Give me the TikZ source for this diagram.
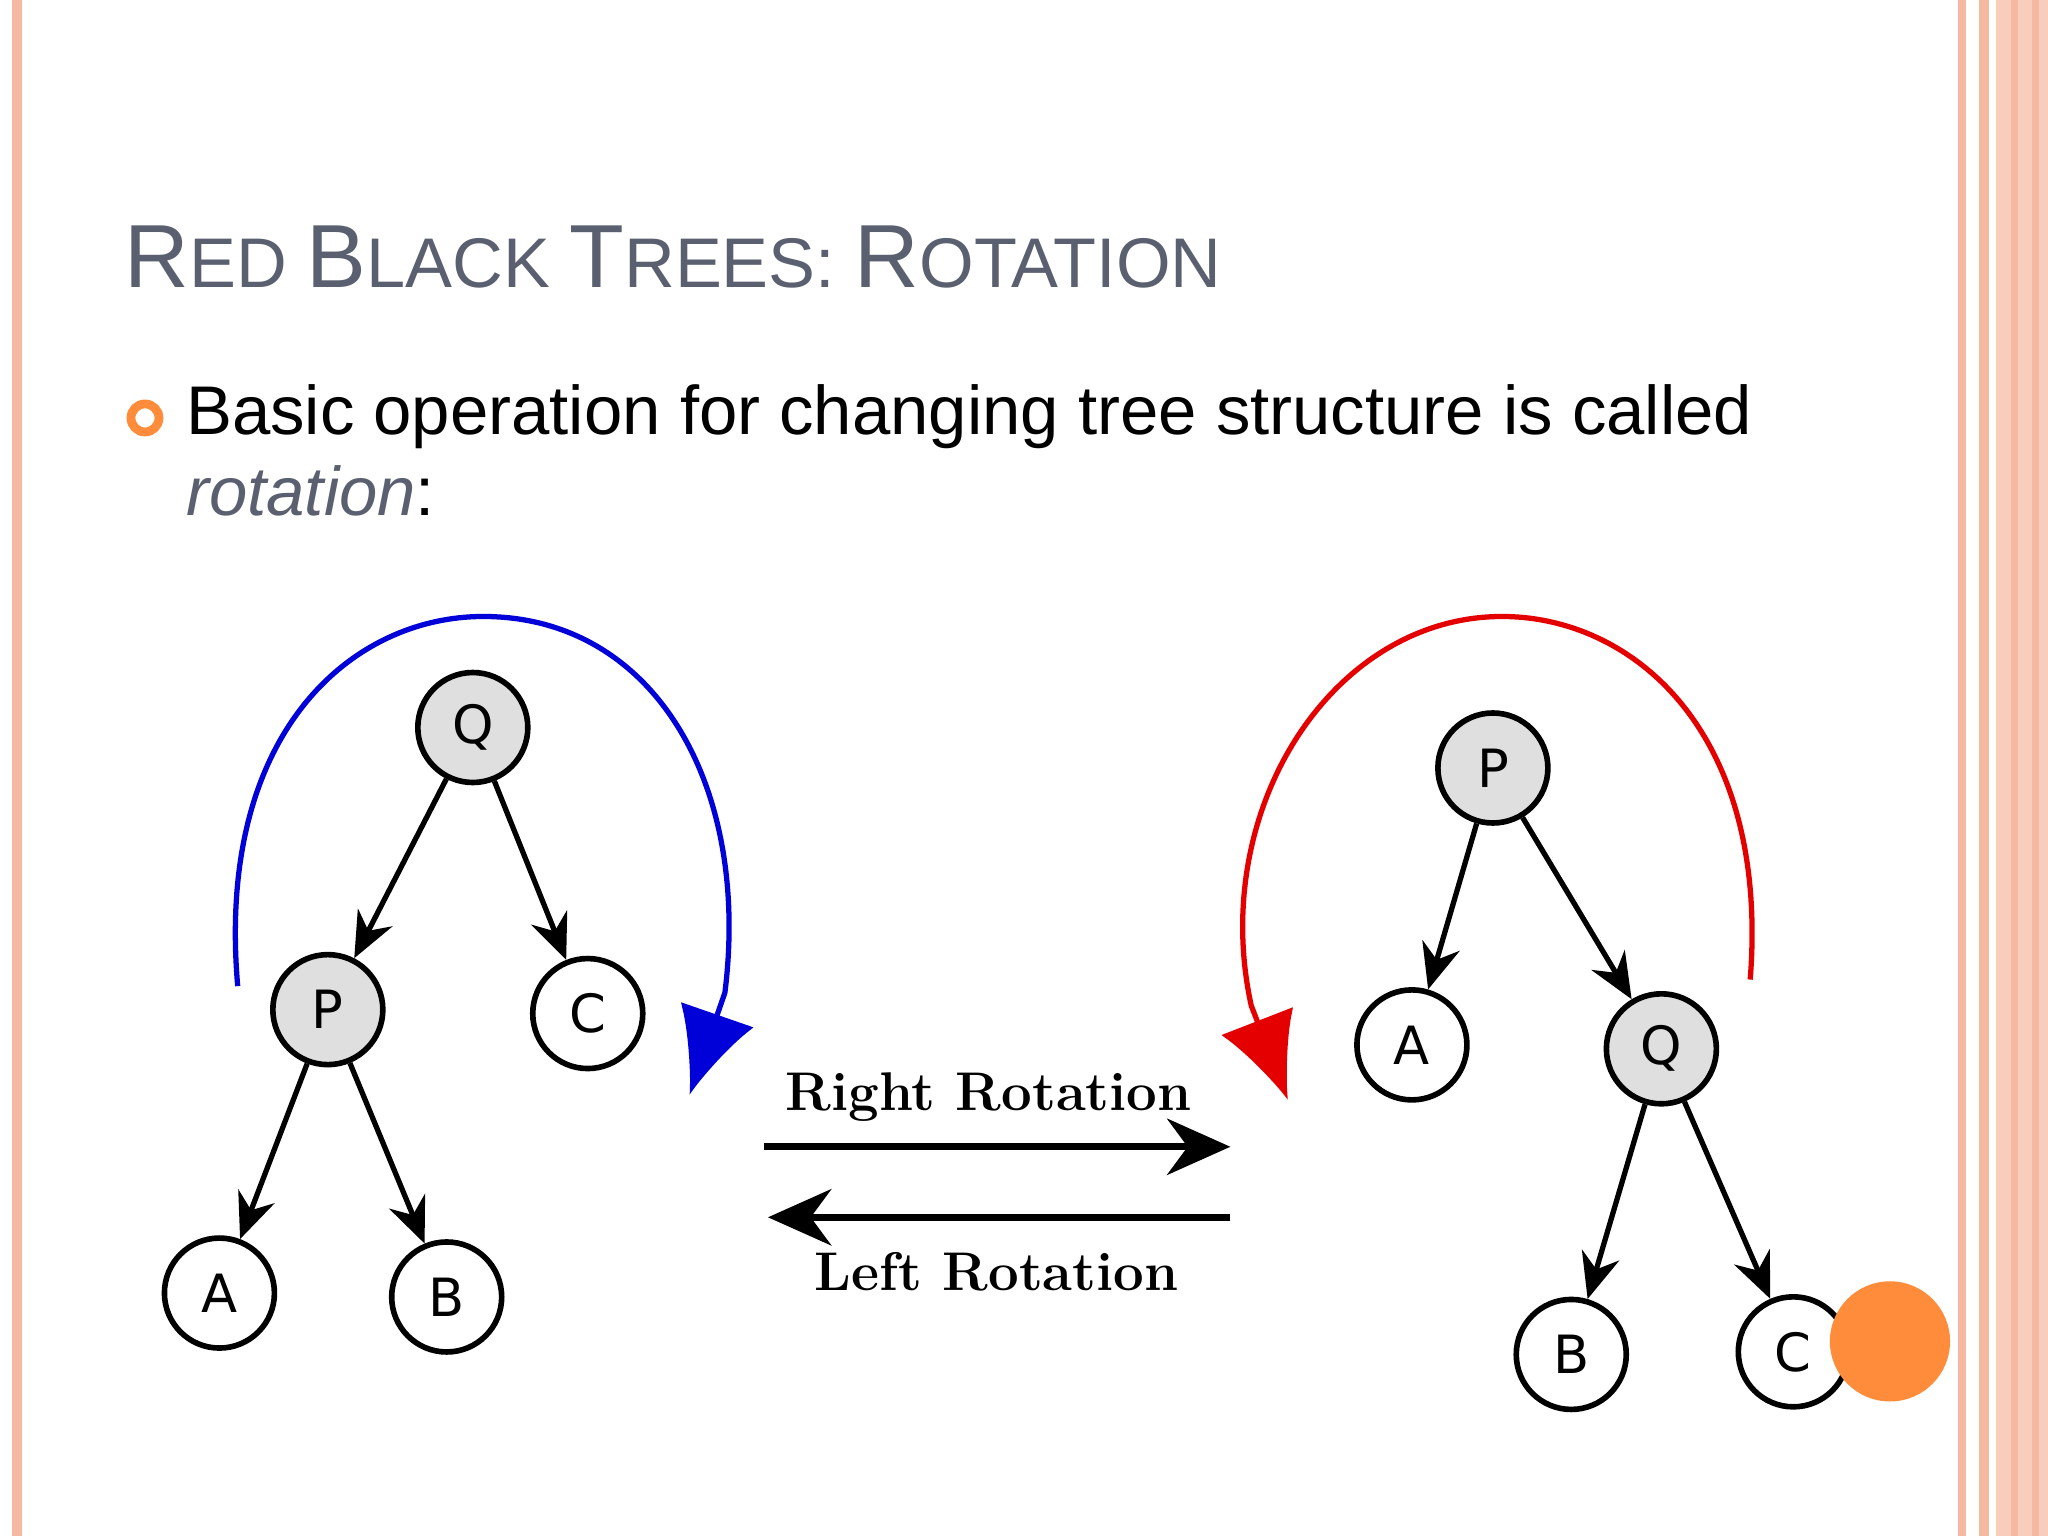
\documentclass[tikz,border=0pt]{standalone}
\usepackage{fontspec}
\setmainfont{Liberation Sans}
\newfontfamily\djsans{DejaVu Sans}
\newfontfamily\serifr{Latin Modern Roman}
\usetikzlibrary{arrows.meta}
\definecolor{salmon}{HTML}{F5B8A0}
\definecolor{titleg}{HTML}{5A6070}
\definecolor{orng}{HTML}{FF8C3A}
\begin{document}
\begin{tikzpicture}[x=0.01306cm,y=-0.01306cm,
 nd/.style={circle,draw,line width=1.6pt,minimum width=0.95cm,minimum height=1.1cm,inner sep=0pt,font=\djsans\fontsize{15}{15}\selectfont},
 gr/.style={nd,fill=gray!25},
 ed/.style={line width=1.5pt,-{Stealth[length=13pt,width=11pt]}},
 rot/.style={line width=2pt,-{Stealth[length=18pt,width=16pt]}},
 arc/.style={line width=1.5pt,-{Latex[length=24pt,width=22pt]}}]
\useasboundingbox (0,0) rectangle (1568,1176);
\fill[white] (0,0) rectangle (1568,1176);
% borders
\fill[salmon] (9,0) rectangle (17,1176);
\fill[salmon] (1499,0) rectangle (1505,1176);
\fill[salmon] (1515,0) rectangle (1523,1176);
\fill[salmon!70] (1528,0) rectangle (1568,1176);
\fill[salmon] (1540,0) rectangle (1545,1176);
\fill[salmon] (1556,0) rectangle (1561,1176);
% title
\node[anchor=base west,text=titleg,inner sep=0] (title) at (95,220)
 {\fontsize{25.5}{25.5}\selectfont R\fontsize{20}{20}\selectfont ED \fontsize{25.5}{25.5}\selectfont B\fontsize{20}{20}\selectfont LACK \fontsize{25.5}{25.5}\selectfont T\fontsize{20}{20}\selectfont REES: \fontsize{25.5}{25.5}\selectfont R\fontsize{20}{20}\selectfont OTATION};
\node[circle,draw=orng,line width=2.5pt,minimum size=0.28cm,inner sep=0] (bul) at (111,320) {};
\node[anchor=base west,inner sep=0] (l1) at (142,333) {\fontsize{19.6}{19.6}\selectfont Basic operation for changing tree structure is called};
\node[anchor=base west,inner sep=0] (l2) at (142,395) {\fontsize{19.6}{19.6}\selectfont\textcolor{titleg}{\itshape rotation}:};
% left tree
\node[gr] (Q1) at (362,557) {Q};
\node[gr] (P1) at (251,773) {P};
\node[nd] (C1) at (450,776) {C};
\node[nd] (A1) at (168,990) {A};
\node[nd] (B1) at (342,993) {B};
\draw[ed] (Q1) -- (P1); \draw[ed] (Q1) -- (C1);
\draw[ed] (P1) -- (A1); \draw[ed] (P1) -- (B1);
% right tree
\node[gr] (P2) at (1143,588) {P};
\node[nd] (A2) at (1081,800) {A};
\node[gr] (Q2) at (1272,803) {Q};
\node[nd] (B2) at (1203,1037) {B};
\node[nd] (C2) at (1373,1035) {C};
\draw[ed] (P2) -- (A2); \draw[ed] (P2) -- (Q2);
\draw[ed] (Q2) -- (B2); \draw[ed] (Q2) -- (C2);
% arcs
\coordinate (bs) at (182,755); \coordinate (be) at (528,838);
\draw[blue!85!black,arc] (bs) .. controls (165,560) and (270,472) .. (370,472) .. controls (500,472) and (575,600) .. (555,760) -- (be);
\coordinate (rs) at (1340,750); \coordinate (re) at (986,842);
\draw[red!90!black,arc] (rs) .. controls (1355,560) and (1250,472) .. (1150,472) .. controls (1020,472) and (925,620) .. (958,770) -- (re);
% rotation arrows
\coordinate (r1) at (585,878); \coordinate (r2) at (942,878);
\draw[rot] (r1) -- (r2);
\coordinate (l1a) at (942,932); \coordinate (l2a) at (588,932);
\draw[rot] (l1a) -- (l2a);
\node[font=\serifr\bfseries\fontsize{15.5}{15.5}\selectfont] (rl) at (757,840) {Right Rotation};
\node[font=\serifr\bfseries\fontsize{15.5}{15.5}\selectfont] (ll) at (763,974) {Left Rotation};
% orange dot
\fill[orng] (1447,1027) circle (46);
\end{tikzpicture}
\end{document}
